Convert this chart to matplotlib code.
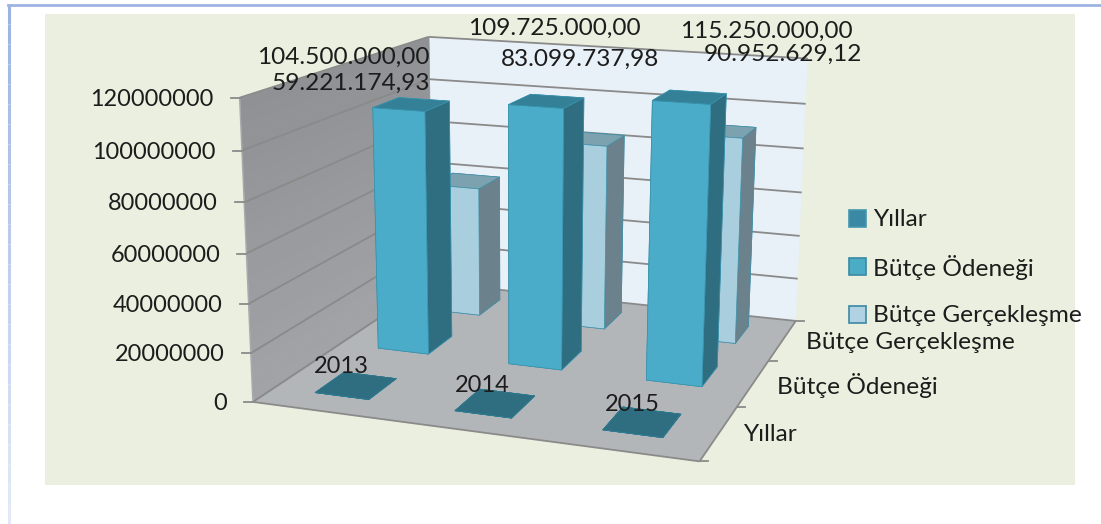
import numpy as np
import matplotlib
matplotlib.use("Agg")
import matplotlib.pyplot as plt
from matplotlib.colors import to_rgb
from matplotlib.lines import Line2D
from matplotlib.patches import Rectangle
from matplotlib.transforms import IdentityTransform
from mpl_toolkits.mplot3d.art3d import Poly3DCollection, Line3DCollection

# ---- data ----
years = ["2013", "2014", "2015"]
series_names = ["Yıllar", "Bütçe Ödeneği", "Bütçe Gerçekleşme"]
yillar = [2013, 2014, 2015]
odenek = [104500000.00, 109725000.00, 115250000.00]
gerceklesme = [59221174.93, 83099737.98, 90952629.12]
z_ticks = [0, 20000000, 40000000, 60000000, 80000000, 100000000, 120000000]
odenek_labels = ["104.500.000,00", "109.725.000,00", "115.250.000,00"]
gercek_labels = ["59.221.174,93", "83.099.737,98", "90.952.629,12"]

W, H = 1101, 524
ZMAX = z_ticks[-1]
FONT = "Lato"
FS = 17.6
FS_AXIS = 16.9
TXT = "#1c1c1c"

# ---- camera: fit a projective matrix to the chart box corners (pixels) ----
box_world = [(0, 0, 0), (3, 0, 0), (3, 3, 0), (0, 3, 0), (0, 0, 1), (0, 3, 1), (3, 3, 1)]
box_pixel = [(253, 402), (699, 462), (796, 320), (432, 283), (240, 97), (428, 37), (808, 59)]
rows = []
for (X, Y, Z), (u, v) in zip(box_world, box_pixel):
    v = H - v
    p = [X, Y, Z, 1]
    rows.append(p + [0, 0, 0, 0] + [-u * c for c in p])
    rows.append([0, 0, 0, 0] + p + [-v * c for c in p])
P = np.linalg.svd(np.array(rows, float))[2][-1].reshape(3, 4)
P[:, 2] /= ZMAX
P /= (P[2] @ np.array([1.5, 1.5, ZMAX / 2, 1]))
M = np.vstack([P[0], P[1], P[2] - np.array([0, 0, 0, 1.0]), P[2]])


def project(x, y, z):
    u, v, w = P @ np.array([x, y, z, 1.0])
    return u / w, v / w


fig = plt.figure(figsize=(W / 100, H / 100), dpi=100, facecolor="white")
fig.add_artist(Rectangle((45, H - 485), 1030, 471, transform=IdentityTransform(),
                         fc="#EBEFDF", ec="none", zorder=-5))
# page frame
fig.add_artist(Line2D([8, W], [H - 4.5, H - 4.5], transform=IdentityTransform(),
                      color="#9DB3E2", lw=2, zorder=-4))
c0, c1 = np.array(to_rgb("#9DB3E2")), np.array(to_rgb("#E2E8F7"))
for i in range(26):
    f = i / 25
    fig.add_artist(Line2D([8.5, 8.5], [H - 4 - i * 20, H - 4 - (i + 1) * 20],
                          transform=IdentityTransform(), color=c0 + (c1 - c0) * f,
                          lw=2.2, solid_capstyle="butt", zorder=-4))

ax = fig.add_axes([0, 0, 1, 1], projection="3d", computed_zorder=False)
ax.set_axis_off()
ax.patch.set_visible(False)
ax.get_proj = lambda: M
ax.apply_aspect = lambda position=None: ax._set_position(ax.get_position(True), "active")
ax.set_xlim3d(0, 3)
ax.set_ylim3d(0, 3)
ax.set_zlim3d(0, ZMAX)
ax.set_autoscale_on(False)
ax.viewLim.intervalx = (0, W)
ax.viewLim.intervaly = (0, H)

# walls
ax.add_collection3d(Poly3DCollection([[(0, 3, 0), (3, 3, 0), (3, 3, ZMAX), (0, 3, ZMAX)]],
                                     facecolors="#E8F0F8", edgecolors="none", zorder=1))
ax.add_collection3d(Poly3DCollection([[(0, 0, 0), (3, 0, 0), (3, 3, 0), (0, 3, 0)]],
                                     facecolors="#B3B6B9", edgecolors="none", zorder=1))
wall_top, wall_bot = np.array(to_rgb("#909195")), np.array(to_rgb("#A3A4A7"))
strips = np.linspace(0, ZMAX, 25)
for a, b in zip(strips[:-1], strips[1:]):
    col = wall_bot + (wall_top - wall_bot) * (b / ZMAX)
    ax.add_collection3d(Poly3DCollection([[(0, 0, a), (0, 3, a), (0, 3, b), (0, 0, b)]],
                                         facecolors=[col], edgecolors=[col], linewidths=0.5, zorder=1))
GRID = "#8a8a8a"
segs = []
for z in z_ticks:
    segs.append([(0, 0, z), (0, 3, z)])
    segs.append([(0, 3, z), (3, 3, z)])
segs.append([(0, 0, 0), (3, 0, 0)])
segs.append([(3, 0, 0), (3, 3, 0)])
ax.add_collection3d(Line3DCollection(segs, colors=GRID, linewidths=1.3, zorder=2))
ax.add_collection3d(Line3DCollection([[(0, 0, 0), (0, 0, ZMAX)]], colors="#a9aaad",
                                     linewidths=1.0, zorder=2))

# bars
BW_X = 0.39
BW_Y = 0.44
styles = [
    ("#2F6D80", "#2F6D80", "#2F6D80", "#2F7A90"),
    ("#4AACC8", "#2F6D80", "#338097", "#3A93AD"),
    ("#A9CFDF", "#6B828C", "#7BA2AE", "#3F8FA8"),
]
values = [yillar, odenek, gerceklesme]
for s in [2, 1, 0]:
    front, side, top, edge = styles[s]
    for c in range(len(years)):
        colors = [top, top, front, front, side, side]
        ax.bar3d(c + 0.5 - 0.2, s + 0.3, 0, BW_X, BW_Y, values[s][c],
                 color=colors, shade=False, edgecolor=edge, linewidth=0.5,
                 zorder=5 - s + c * 0.01)


def txt(x, y, s, ha="center", fs=FS):
    fig.text(x / W, 1 - (y + 1.5) / H, s, ha=ha, va="center", family=FONT, fontsize=fs,
             color=TXT, zorder=10)


def tick(x0, y0, dx):
    fig.add_artist(Line2D([x0, x0 + dx], [y0, y0], transform=IdentityTransform(),
                          color=GRID, lw=1.3, zorder=3))


# value axis
for z in z_ticks:
    px, py = project(0, 0, z)
    tick(px, py, -9)
    txt(px - 26, H - py, str(z), ha="right", fs=FS_AXIS)
# depth axis
for y in range(4):
    px, py = project(3, y, 0)
    tick(px, py, 8)
depth_pos = [(743, 433), (777, 384), (806, 341)]
for name, (x, y) in zip(series_names, depth_pos):
    txt(x, y, name, ha="left")

# data labels
for name, (x, y) in zip(years, [(341, 365), (482, 384), (632, 403)]):
    txt(x, y, name, fs=17)
txt(430, 56, odenek_labels[0], ha="right")
txt(430, 82, gercek_labels[0], ha="right")
txt(468, 27, odenek_labels[1], ha="left")
txt(580, 58, gercek_labels[1])
txt(680, 30, odenek_labels[2], ha="left")
txt(783, 53, gercek_labels[2])

# legend
leg_cols = [("#3A88A4", "#4596B0"), ("#4BACC6", "#3A88A4"), ("#B0D2E2", "#3A88A4")]
for name, y, (fc, ec) in zip(series_names, [219, 267, 315], leg_cols):
    fig.add_artist(Rectangle((849, H - y - 8), 17, 17, transform=IdentityTransform(),
                             fc=fc, ec=ec, lw=1.2, zorder=9))
    txt(873, y - 1, name, ha="left")

fig.savefig("out.png", dpi=100, facecolor="white")
